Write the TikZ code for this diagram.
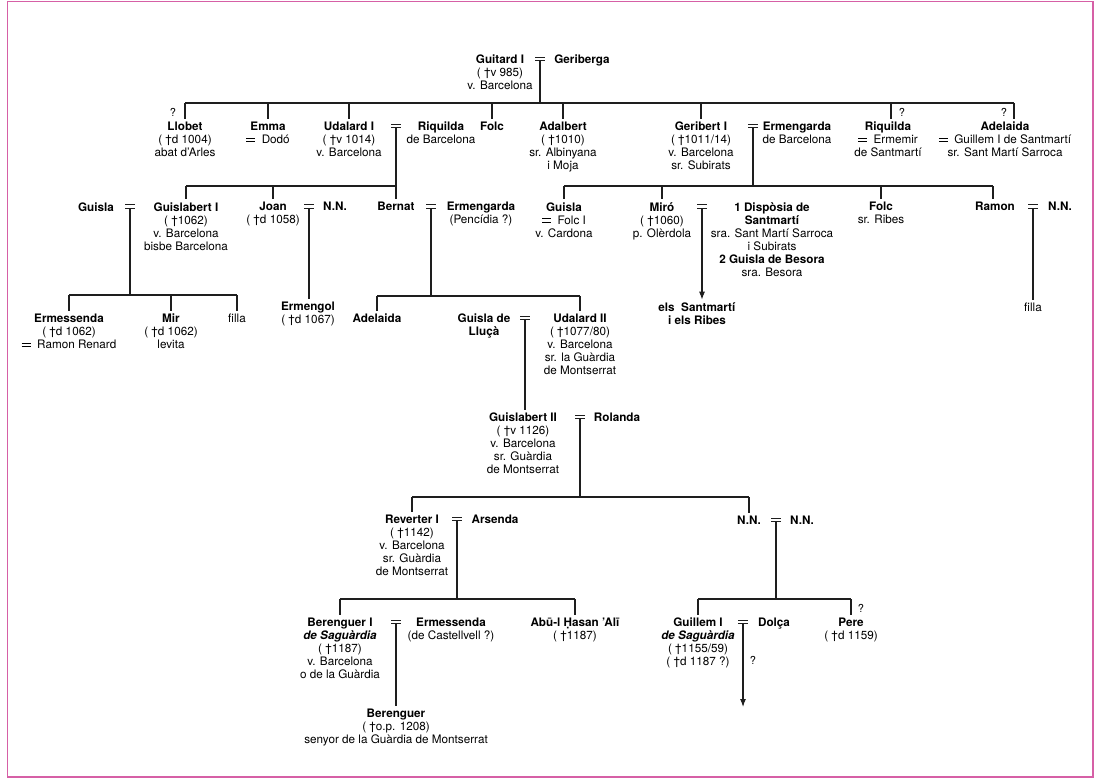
\documentclass[tikz,border=0pt]{standalone}
\usepackage{fontspec}
\setmainfont{TeX Gyre Heros}
\usetikzlibrary{arrows.meta}
\definecolor{framepink}{RGB}{214,96,166}
\definecolor{ink}{RGB}{30,30,30}
\newcommand\fs{\fontsize{11.7}{13}\selectfont}
\newcommand\mq{\raisebox{1.6pt}{\rlap{\rule{9pt}{0.9pt}}\rule[3.4pt]{9pt}{0.9pt}}}
\newcommand\mqn{\rlap{\rule{10pt}{0.9pt}}\rule[3.4pt]{10pt}{0.9pt}}
\tikzset{
  p/.style={align=center, inner xsep=1pt, inner ysep=3pt, anchor=north, font=\fs, text=black},
  mar/.style={inner sep=0pt, font=\fs, text=ink},
  qm/.style={inner sep=0pt, font=\fontsize{11}{12}\selectfont},
  ln/.style={draw=ink, line width=1.1pt},
  arr/.style={ln, -{Latex[length=8pt,width=6pt]}},
}
\begin{document}
\begin{tikzpicture}[x=1pt,y=-1pt]
\useasboundingbox (0,0) rectangle (1100,782);
\draw[framepink, line width=1.6pt] (7.5,1.5) rectangle (1093,777);

% ---------- generation 0
\node[p] (guitard) at (500,51.7) {\textbf{Guitard I}\\( †v 985)\\v. Barcelona};
\node[mar] (m0) at (540,59) {\mqn};
\node[p] (geriberga) at (582,51.7) {\textbf{Geriberga}};

% ---------- generation 1
\node[p] (llobet) at (185,118.7) {\textbf{Llobet}\\( †d 1004)\\abat d'Arles};
\node[qm] (q1) at (173,112) {?};
\node[p] (emma) at (268,118.7) {\textbf{Emma}\\\mq\ \ Dodó};
\node[p] (udalard) at (349,118.7) {\textbf{Udalard I}\\( †v 1014)\\v. Barcelona};
\node[mar] (m1) at (396,126) {\mqn};
\node[p] (riquilda1) at (441,118.7) {\textbf{Riquilda}\\de Barcelona};
\node[p] (folc1) at (492,118.7) {\textbf{Folc}};
\node[p] (adalbert) at (563,118.7) {\textbf{Adalbert}\\( †1010)\\sr. Albinyana\\i Moja};
\node[p] (geribert) at (701,118.7) {\textbf{Geribert I}\\( †1011/14)\\v. Barcelona\\sr. Subirats};
\node[mar] (m2) at (753,126) {\mqn};
\node[p] (ermengarda1) at (797,118.7) {\textbf{Ermengarda}\\de Barcelona};
\node[p] (riquilda2) at (888,118.7) {\textbf{Riquilda}\\\mq\ \ Ermemir\\de Santmartí};
\node[qm] (q2) at (902,112) {?};
\node[p] (adelaida1) at (1005,118.7) {\textbf{Adelaida}\\\mq\ \ Guillem I de Santmartí\\sr. Sant Martí Sarroca};
\node[qm] (q3) at (1004,112) {?};

% ---------- generation 2
\node[p] (guisla1) at (96,199.2) {\textbf{Guisla}};
\node[mar] (m3) at (130,206.5) {\mqn};
\node[p] (guislabert) at (186,199.2) {\textbf{Guislabert I}\\( †1062)\\v. Barcelona\\bisbe Barcelona};
\node[p] (joan) at (273,199.2) {\textbf{Joan}\\( †d 1058)};
\node[mar] (m4) at (309,206.5) {\mqn};
\node[p] (nn1) at (335,199.2) {\textbf{N.N.}};
\node[p] (bernat) at (396,199.2) {\textbf{Bernat}};
\node[mar] (m5) at (431,206.5) {\mqn};
\node[p] (ermengarda2) at (481,199.2) {\textbf{Ermengarda}\\(Pencídia ?)};

\node[p] (guisla2) at (564,199.2) {\textbf{Guisla}\\\mq\ \ Folc I\\v. Cardona};
\node[p] (miro) at (662,199.2) {\textbf{Miró}\\( †1060)\\p. Olèrdola};
\node[mar] (m6) at (702,206.5) {\mqn};
\node[p] (disposia) at (772,199.2) {\textbf{1 Dispòsia de}\\\textbf{Santmartí}\\sra. Sant Martí Sarroca\\i Subirats\\\textbf{2 Guisla de Besora}\\sra. Besora};
\node[p] (folc2) at (881,199.2) {\textbf{Folc}\\sr. Ribes};
\node[p] (ramon) at (995,199.2) {\textbf{Ramon}};
\node[mar] (m7) at (1033,206.5) {\mqn};
\node[p] (nn2) at (1060,199.2) {\textbf{N.N.}};
\node[p] (els) at (697,299.7) {\textbf{els\ \ Santmartí}\\\textbf{i els Ribes}};
\node[p] (filla2) at (1033,299.7) {filla};

% ---------- generation 3
\node[p] (ermessenda1) at (69,310.7) {\textbf{Ermessenda}\\( †d 1062)\\\mq\ \ Ramon Renard};
\node[p] (mir) at (171,310.7) {\textbf{Mir}\\( †d 1062)\\levita};
\node[p] (filla1) at (237,310.7) {filla};
\node[p] (ermengol) at (308,298.7) {\textbf{Ermengol}\\( †d 1067)};
\node[p] (adelaida2) at (377,310.7) {\textbf{Adelaida}};
\node[p] (guislaL) at (484,310.7) {\textbf{Guisla de}\\\textbf{Lluçà}};
\node[mar] (m8) at (525,318) {\mqn};
\node[p] (udalard2) at (580,310.7) {\textbf{Udalard II}\\( †1077/80)\\v. Barcelona\\sr. la Guàrdia\\de Montserrat};

% ---------- generation 4
\node[p] (guislabert2) at (523,409.7) {\textbf{Guislabert II}\\( †v 1126)\\v. Barcelona\\sr. Guàrdia\\de Montserrat};
\node[mar] (m9) at (580,417) {\mqn};
\node[p] (rolanda) at (617,409.7) {\textbf{Rolanda}};

% ---------- generation 5
\node[p] (reverter) at (412,511.7) {\textbf{Reverter I}\\( †1142)\\v. Barcelona\\sr. Guàrdia\\de Montserrat};
\node[mar] (m10) at (457,519) {\mqn};
\node[p] (arsenda) at (495,511.7) {\textbf{Arsenda}};
\node[p] (nnA) at (749,512.7) {\textbf{N.N.}};
\node[mar] (m11) at (776,520) {\mqn};
\node[p] (nnB) at (802,512.7) {\textbf{N.N.}};

% ---------- generation 6
\node[p] (berenguer1) at (340,614.7) {\textbf{Berenguer I}\\\textbf{\textit{de Saguàrdia}}\\( †1187)\\v. Barcelona\\o de la Guàrdia};
\node[mar] (m12) at (396,622) {\mqn};
\node[p] (ermessenda2) at (451,614.7) {\textbf{Ermessenda}\\(de Castellvell ?)};
\node[p] (abu) at (575,614.7) {\textbf{Abū-l Ḥasan 'Alī}\\( †1187)};
\node[p] (guillem) at (698,614.7) {\textbf{Guillem I}\\\textbf{\textit{de Saguàrdia}}\\( †1155/59)\\( †d 1187 ?)};
\node[mar] (m13) at (743,622) {\mqn};
\node[qm] (q4) at (753,660) {?};
\node[p] (dolca) at (774,614.7) {\textbf{Dolça}};
\node[p] (pere) at (851,614.7) {\textbf{Pere}\\( †d 1159)};
\node[qm] (q5) at (861,608) {?};
\coordinate (gend) at (743,707);

% ---------- generation 7
\node[p] (berenguer2) at (396,705.7) {\textbf{Berenguer}\\( †o.p. 1208)\\senyor de la Guàrdia de Montserrat};

% ---------- bar levels
\coordinate (b0) at (0,103);
\coordinate (b1) at (0,186);
\coordinate (b3) at (0,295);
\coordinate (b4) at (0,296);
\coordinate (b5) at (0,497);
\coordinate (b6) at (0,599);

% ---------- connectors
% Guitard I = Geriberga
\draw[ln] (m0.south) -- (m0.south |- b0);
\draw[ln] (llobet.north |- b0) -- ([xshift=9pt]adelaida1.north |- b0);
\foreach \c in {llobet,emma,udalard,folc1,adalbert,geribert}
  \draw[ln] (\c.north |- b0) -- (\c.north);
\draw[ln] ([xshift=3pt]riquilda2.north |- b0) -- ([xshift=3pt]riquilda2.north);
\draw[ln] ([xshift=9pt]adelaida1.north |- b0) -- ([xshift=9pt]adelaida1.north);

% Udalard I = Riquilda
\draw[ln] (m1.south) -- (m1.south |- bernat.north);
\draw[ln] (guislabert.north |- b1) -- (m1.south |- b1);
\foreach \c in {guislabert,joan}
  \draw[ln] (\c.north |- b1) -- (\c.north);

% Geribert I = Ermengarda
\draw[ln] (m2.south) -- (m2.south |- b1);
\draw[ln] (guisla2.north |- b1) -- ([xshift=-2pt]ramon.north |- b1);
\foreach \c in {guisla2,miro,folc2}
  \draw[ln] (\c.north |- b1) -- (\c.north);
\draw[ln] ([xshift=-2pt]ramon.north |- b1) -- ([xshift=-2pt]ramon.north);

% Guisla = Guislabert I
\draw[ln] (m3.south) -- (m3.south |- b3);
\draw[ln] (ermessenda1.north |- b3) -- (filla1.north |- b3);
\foreach \c in {ermessenda1,mir,filla1}
  \draw[ln] (\c.north |- b3) -- (\c.north);

% Joan = N.N.
\draw[ln] (m4.south) -- (m4.south |- ermengol.north);

% Bernat = Ermengarda
\draw[ln] (m5.south) -- (m5.south |- b4);
\draw[ln] (adelaida2.north |- b4) -- (udalard2.north |- b4);
\foreach \c in {adelaida2,udalard2}
  \draw[ln] (\c.north |- b4) -- (\c.north);

% Miró = Dispòsia
\draw[arr] (m6.south) -- (m6.south |- els.north);
% Ramon = N.N.
\draw[ln] (m7.south) -- (m7.south |- filla2.north);

% Guisla de Lluçà = Udalard II
\draw[ln] (m8.south) -- (m8.south |- guislabert2.north);

% Guislabert II = Rolanda
\draw[ln] (m9.south) -- (m9.south |- b5);
\draw[ln] (reverter.north |- b5) -- (nnA.north |- b5);
\foreach \c in {reverter,nnA}
  \draw[ln] (\c.north |- b5) -- (\c.north);

% Reverter I = Arsenda
\draw[ln] (m10.south) -- (m10.south |- b6);
\draw[ln] (berenguer1.north |- b6) -- (abu.north |- b6);
\foreach \c in {berenguer1,abu}
  \draw[ln] (\c.north |- b6) -- (\c.north);

% N.N. = N.N.
\draw[ln] (m11.south) -- (m11.south |- b6);
\draw[ln] (guillem.north |- b6) -- (pere.north |- b6);
\foreach \c in {guillem,pere}
  \draw[ln] (\c.north |- b6) -- (\c.north);

% Berenguer I = Ermessenda
\draw[ln] (m12.south) -- (m12.south |- berenguer2.north);

% Guillem I = Dolça
\draw[arr] (m13.south) -- (gend);
\end{tikzpicture}
\end{document}
